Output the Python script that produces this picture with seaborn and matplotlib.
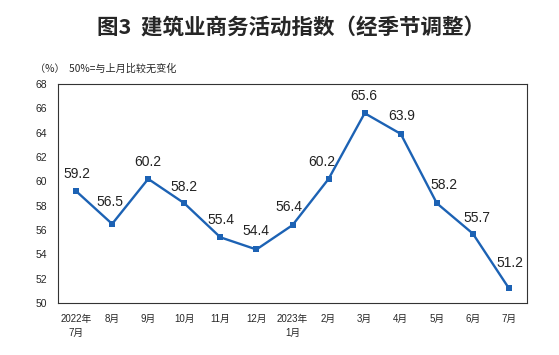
import matplotlib
matplotlib.use("Agg")
import matplotlib.pyplot as plt
import seaborn as sns
import pandas as pd
import numpy as np

# data
months = ["2022年\n7月", "8月", "9月", "10月", "11月", "12月", "2023年\n1月",
          "2月", "3月", "4月", "5月", "6月", "7月"]
index_values = [59.2, 56.5, 60.2, 58.2, 55.4, 54.4, 56.4, 60.2, 65.6, 63.9, 58.2, 55.7, 51.2]
y_ticks = list(range(50, 70, 2))

# label offsets in pixels (dx, dy) relative to each point
label_offsets = [(1, 17), (-2, 22), (0, 17), (0, 16), (1, 17), (0, 18), (-4, 18),
                 (-7, 17), (-1, 17), (1, 18), (7, 18), (4, 16), (1, 25)]

sns.set_style("white")
plt.rcParams["font.family"] = ["Liberation Sans", "Noto Sans CJK SC", "DejaVu Sans"]

df = pd.DataFrame({"pos": np.arange(len(months)), "value": index_values})

fig = plt.figure(figsize=(5.59, 3.55), dpi=100)
ax = fig.add_axes([58 / 559, 1 - 303 / 355, (527 - 58) / 559, (303 - 84) / 355])

line_color = "#1c62b4"
sns.lineplot(data=df, x="pos", y="value", ax=ax, color=line_color, linewidth=1.7,
             marker="s", markersize=4.5, markeredgewidth=0, markerfacecolor=line_color)

for i, v in enumerate(index_values):
    dx, dy = label_offsets[i]
    ax.annotate(f"{v:.1f}", (i, v), xytext=(dx, dy), textcoords="offset pixels",
                ha="center", va="center", fontsize=10, color="#222222")

ax.set_xlim(-0.5, len(months) - 0.5)
ax.set_ylim(50, 68)
ax.set_yticks(y_ticks)
ax.set_xticks(np.arange(len(months)))
ax.set_xticklabels(months, fontsize=7, linespacing=1.5, va="top")
ax.set_xticks(np.arange(0.5, len(months) - 0.5), minor=True)
ax.tick_params(axis="x", which="major", length=0, pad=8)
ax.tick_params(axis="x", which="minor", direction="in", length=4, width=0.8, color="#333333")
ax.tick_params(axis="y", direction="in", length=4, width=0.8, labelsize=7.5, pad=8,
               color="#333333")
for s in ax.spines.values():
    s.set_visible(True)
    s.set_color("#333333")
    s.set_linewidth(0.8)
ax.set_xlabel("")
ax.set_ylabel("")

fig.text(291 / 559, 1 - 27 / 355, "图3  建筑业商务活动指数（经季节调整）", ha="center", va="center",
         fontsize=15.5, fontweight="bold", family=["Noto Sans CJK SC", "DejaVu Sans"])
fig.text(35 / 559, 1 - 69 / 355, "（%）  50%=与上月比较无变化", ha="left", va="center",
         fontsize=7.3, family=["Noto Sans CJK SC", "DejaVu Sans"])

fig.savefig("out.png", dpi=100)
